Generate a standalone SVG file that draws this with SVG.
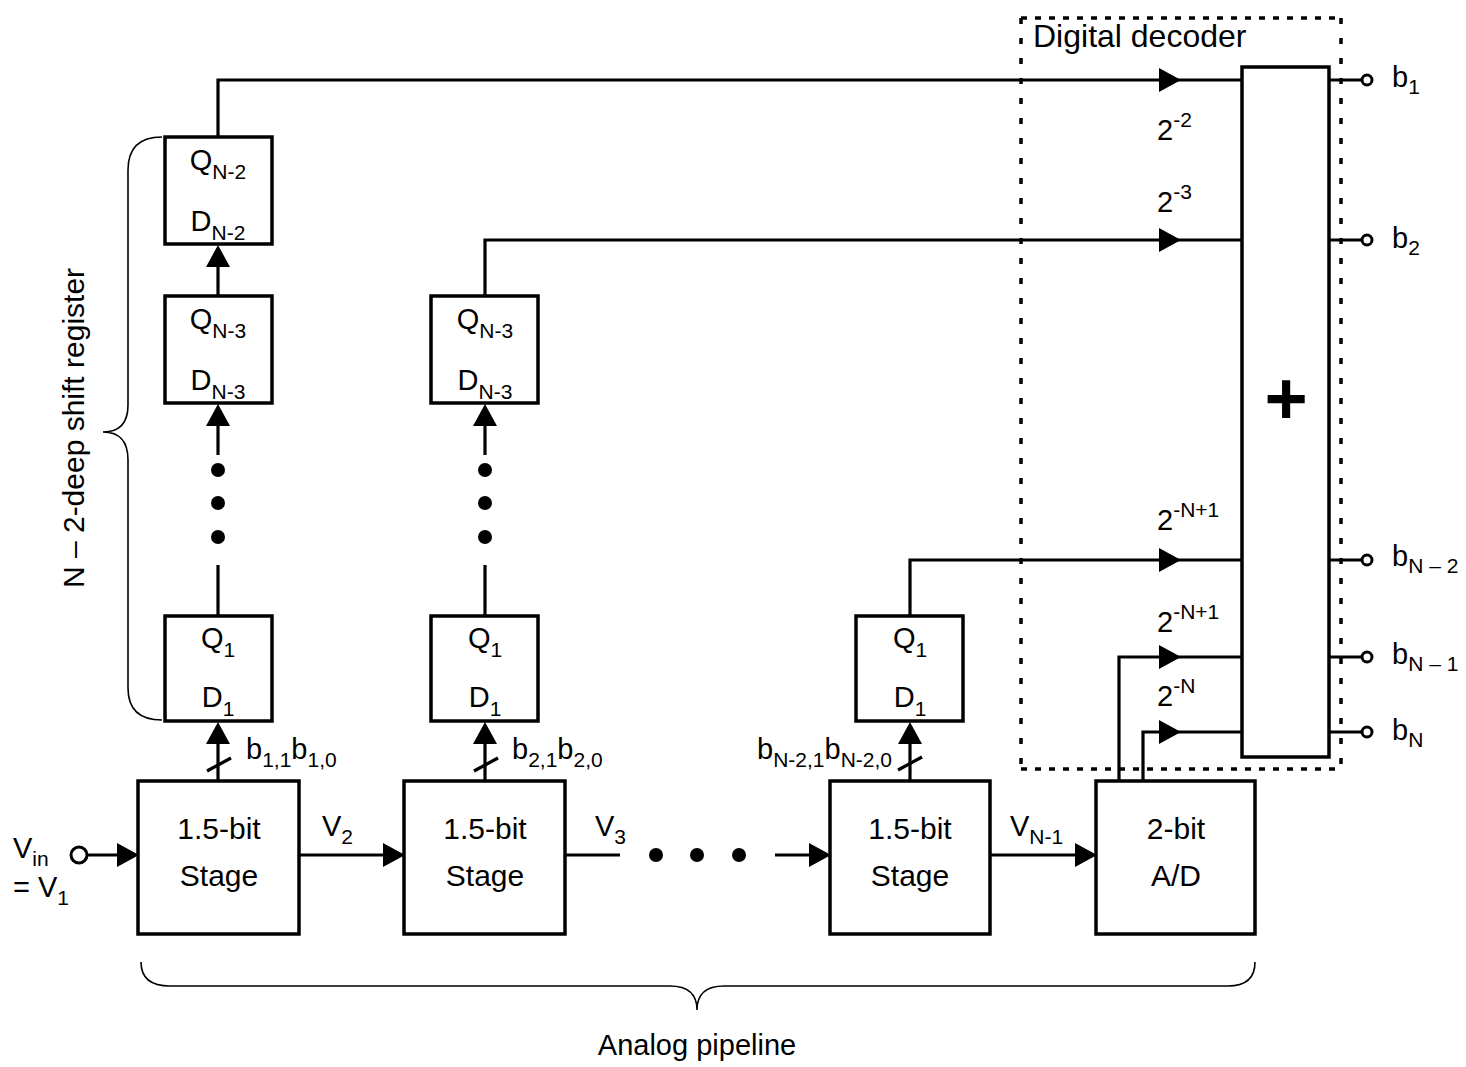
<svg xmlns="http://www.w3.org/2000/svg" xmlns:xlink="http://www.w3.org/1999/xlink" width="1466" height="1067" viewBox="0 0 1466 1067">
<style>
text{font-family:"Liberation Sans",Arial,sans-serif;font-size:29px;fill:#000}
.sub{font-size:21px}
.box{fill:#fff;stroke:#000;stroke-width:3.5}
.ln{fill:none;stroke:#000;stroke-width:3.2}
.br{fill:none;stroke:#000;stroke-width:1.6}
.dotted{fill:none;stroke:#000;stroke-width:3.5}
.pin{fill:#fff;stroke:#000;stroke-width:3}
</style>
<defs>
<path id="ar" d="M0,0 L-22,-12 L-22,12 Z" fill="#000"/>
<path id="au" d="M0,0 L-12,22 L12,22 Z" fill="#000"/>
</defs>
<rect width="1466" height="1067" fill="#fff"/>

<g id="decoder-boundary">
<line class="dotted" x1="1021" y1="18" x2="1341" y2="18" stroke-dasharray="6 8"/>
<line class="dotted" x1="1021" y1="769" x2="1341" y2="769" stroke-dasharray="6 8"/>
<line class="dotted" x1="1021" y1="18" x2="1021" y2="769" stroke-dasharray="6 14"/>
<line class="dotted" x1="1341" y1="18" x2="1341" y2="769" stroke-dasharray="6 14"/>
<text x="1033" y="47" style="font-size:32px">Digital decoder</text>
</g>

<g id="connectors">
<circle class="pin" cx="79" cy="855" r="8"/>
<line class="ln" x1="87" y1="855" x2="120" y2="855"/><use href="#ar" x="139" y="855"/>
<line class="ln" x1="299" y1="855" x2="385" y2="855"/><use href="#ar" x="405" y="855"/>
<line class="ln" x1="565" y1="855" x2="620" y2="855"/>
<circle cx="656" cy="855" r="7"/><circle cx="697" cy="855" r="7"/><circle cx="739" cy="855" r="7"/>
<line class="ln" x1="775" y1="855" x2="812" y2="855"/><use href="#ar" x="831" y="855"/>
<line class="ln" x1="990" y1="855" x2="1078" y2="855"/><use href="#ar" x="1097" y="855"/>

<line class="ln" x1="218" y1="781" x2="218" y2="740"/><use href="#au" x="218" y="722"/>
<line class="ln" x1="207" y1="771" x2="231" y2="758"/>
<line class="ln" x1="218" y1="616" x2="218" y2="565"/>
<circle cx="218" cy="470" r="7"/><circle cx="218" cy="503" r="7"/><circle cx="218" cy="537" r="7"/>
<line class="ln" x1="218" y1="455" x2="218" y2="420"/><use href="#au" x="218" y="404"/>
<line class="ln" x1="218" y1="296" x2="218" y2="262"/><use href="#au" x="218" y="245"/>
<polyline class="ln" points="218,137 218,80 1242,80"/><use href="#ar" x="1181" y="80"/>

<line class="ln" x1="485" y1="781" x2="485" y2="740"/><use href="#au" x="485" y="722"/>
<line class="ln" x1="474" y1="771" x2="498" y2="758"/>
<line class="ln" x1="485" y1="616" x2="485" y2="565"/>
<circle cx="485" cy="470" r="7"/><circle cx="485" cy="503" r="7"/><circle cx="485" cy="537" r="7"/>
<line class="ln" x1="485" y1="455" x2="485" y2="420"/><use href="#au" x="485" y="404"/>
<polyline class="ln" points="485,296 485,240 1242,240"/><use href="#ar" x="1181" y="240"/>

<line class="ln" x1="910" y1="781" x2="910" y2="740"/><use href="#au" x="910" y="722"/>
<line class="ln" x1="898" y1="770" x2="922" y2="757"/>
<polyline class="ln" points="910,616 910,560 1242,560"/><use href="#ar" x="1181" y="560"/>

<polyline class="ln" points="1119,781 1119,657 1242,657"/><use href="#ar" x="1181" y="657"/>
<polyline class="ln" points="1143,781 1143,732 1242,732"/><use href="#ar" x="1181" y="732"/>

<line class="ln" x1="1329" y1="80" x2="1362" y2="80"/><circle class="pin" cx="1367" cy="80" r="5"/>
<line class="ln" x1="1329" y1="240" x2="1362" y2="240"/><circle class="pin" cx="1367" cy="240" r="5"/>
<line class="ln" x1="1329" y1="560" x2="1362" y2="560"/><circle class="pin" cx="1367" cy="560" r="5"/>
<line class="ln" x1="1329" y1="657" x2="1362" y2="657"/><circle class="pin" cx="1367" cy="657" r="5"/>
<line class="ln" x1="1329" y1="732" x2="1362" y2="732"/><circle class="pin" cx="1367" cy="732" r="5"/>
</g>

<g id="reg1-qn2"><rect class="box" x="165" y="137" width="107" height="107"/>
<text x="218" y="170" text-anchor="middle">Q<tspan class="sub" dy="9">N-2</tspan></text>
<text x="218" y="231" text-anchor="middle">D<tspan class="sub" dy="9">N-2</tspan></text></g>
<g id="reg1-qn3"><rect class="box" x="165" y="296" width="107" height="107"/>
<text x="218" y="329" text-anchor="middle">Q<tspan class="sub" dy="9">N-3</tspan></text>
<text x="218" y="390" text-anchor="middle">D<tspan class="sub" dy="9">N-3</tspan></text></g>
<g id="reg1-q1"><rect class="box" x="165" y="616" width="107" height="105"/>
<text x="218" y="648" text-anchor="middle">Q<tspan class="sub" dy="9">1</tspan></text>
<text x="218" y="707" text-anchor="middle">D<tspan class="sub" dy="9">1</tspan></text></g>

<g id="reg2-qn3"><rect class="box" x="431" y="296" width="107" height="107"/>
<text x="485" y="329" text-anchor="middle">Q<tspan class="sub" dy="9">N-3</tspan></text>
<text x="485" y="390" text-anchor="middle">D<tspan class="sub" dy="9">N-3</tspan></text></g>
<g id="reg2-q1"><rect class="box" x="431" y="616" width="107" height="105"/>
<text x="485" y="648" text-anchor="middle">Q<tspan class="sub" dy="9">1</tspan></text>
<text x="485" y="707" text-anchor="middle">D<tspan class="sub" dy="9">1</tspan></text></g>

<g id="reg3-q1"><rect class="box" x="856" y="616" width="107" height="105"/>
<text x="910" y="648" text-anchor="middle">Q<tspan class="sub" dy="9">1</tspan></text>
<text x="910" y="707" text-anchor="middle">D<tspan class="sub" dy="9">1</tspan></text></g>

<g id="stage1"><rect class="box" x="138" y="781" width="161" height="153"/>
<text x="219" y="839" text-anchor="middle" style="font-size:30px">1.5-bit</text>
<text x="219" y="886" text-anchor="middle" style="font-size:30px">Stage</text></g>
<g id="stage2"><rect class="box" x="404" y="781" width="161" height="153"/>
<text x="485" y="839" text-anchor="middle" style="font-size:30px">1.5-bit</text>
<text x="485" y="886" text-anchor="middle" style="font-size:30px">Stage</text></g>
<g id="stage3"><rect class="box" x="830" y="781" width="160" height="153"/>
<text x="910" y="839" text-anchor="middle" style="font-size:30px">1.5-bit</text>
<text x="910" y="886" text-anchor="middle" style="font-size:30px">Stage</text></g>
<g id="adc"><rect class="box" x="1096" y="781" width="159" height="153"/>
<text x="1176" y="839" text-anchor="middle" style="font-size:30px">2-bit</text>
<text x="1176" y="886" text-anchor="middle" style="font-size:30px">A/D</text></g>

<g id="adder"><rect class="box" x="1242" y="67" width="87" height="690"/>
<text x="1286" y="424" text-anchor="middle" style="font-size:74px;font-weight:bold">+</text></g>

<g id="labels">
<text x="13" y="858">V<tspan class="sub" dy="8">in</tspan></text>
<text x="13" y="897">= V<tspan class="sub" dy="8">1</tspan></text>
<text x="322" y="836">V<tspan class="sub" dy="8">2</tspan></text>
<text x="595" y="836">V<tspan class="sub" dy="8">3</tspan></text>
<text x="1010" y="836">V<tspan class="sub" dy="8">N-1</tspan></text>
<text x="246" y="759">b<tspan class="sub" dy="8">1,1</tspan><tspan dy="-8">b</tspan><tspan class="sub" dy="8">1,0</tspan></text>
<text x="512" y="759">b<tspan class="sub" dy="8">2,1</tspan><tspan dy="-8">b</tspan><tspan class="sub" dy="8">2,0</tspan></text>
<text x="892" y="759" text-anchor="end">b<tspan class="sub" dy="8">N-2,1</tspan><tspan dy="-8">b</tspan><tspan class="sub" dy="8">N-2,0</tspan></text>
<text x="1157" y="140">2<tspan class="sub" dy="-13">-2</tspan></text>
<text x="1157" y="212">2<tspan class="sub" dy="-13">-3</tspan></text>
<text x="1157" y="530">2<tspan class="sub" dy="-13">-N+1</tspan></text>
<text x="1157" y="632">2<tspan class="sub" dy="-13">-N+1</tspan></text>
<text x="1157" y="706">2<tspan class="sub" dy="-13">-N</tspan></text>
<text x="1392" y="87">b<tspan class="sub" dy="7">1</tspan></text>
<text x="1392" y="248">b<tspan class="sub" dy="7">2</tspan></text>
<text x="1392" y="566">b<tspan class="sub" dy="7">N – 2</tspan></text>
<text x="1392" y="664">b<tspan class="sub" dy="7">N – 1</tspan></text>
<text x="1392" y="740">b<tspan class="sub" dy="7">N</tspan></text>
</g>

<g id="shift-register-brace">
<path class="br" d="M162,137 Q128,137 128,170 L128,405 Q128,432 103,432 Q128,432 128,460 L128,688 Q128,720 162,720"/>
<text transform="translate(84,428) rotate(-90)" text-anchor="middle" style="font-size:30px">N – 2-deep shift register</text>
</g>
<g id="pipeline-brace">
<path class="br" d="M141,962 Q141,986 170,986 L670,986 Q697,986 697,1010 Q697,986 724,986 L1228,986 Q1255,986 1255,962"/>
<text x="697" y="1055" text-anchor="middle" style="font-size:29px">Analog pipeline</text>
</g>
</svg>
